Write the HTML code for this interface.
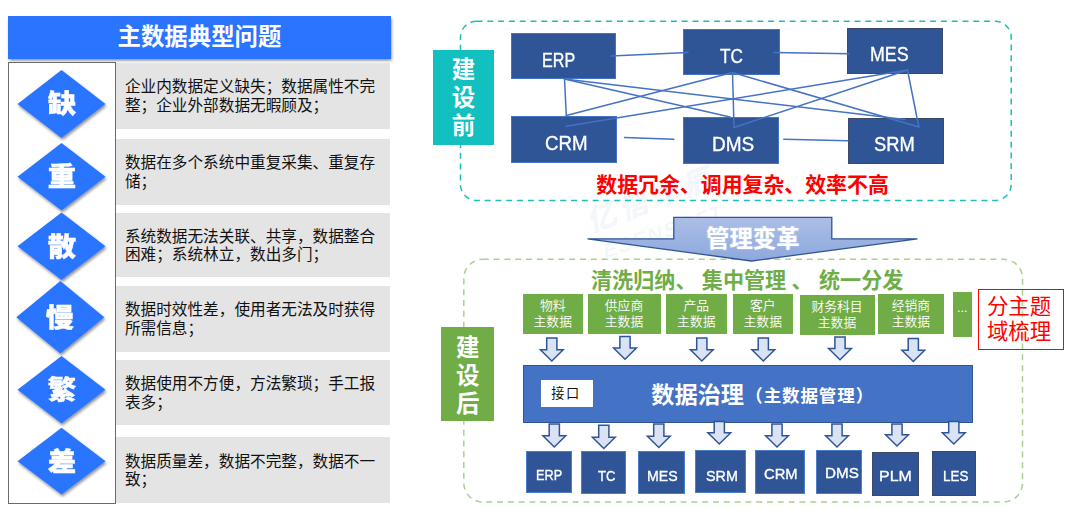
<!DOCTYPE html>
<html lang="zh-CN">
<head>
<meta charset="utf-8">
<title>主数据典型问题</title>
<style>
html,body{margin:0;padding:0;background:#fff}
body{width:1080px;height:515px;position:relative;overflow:hidden;font-family:"Liberation Sans","Noto Sans CJK SC",sans-serif;color:#000}
.a{position:absolute;box-sizing:border-box}
.c{display:flex;align-items:center;justify-content:center;text-align:center;white-space:nowrap}
svg{position:absolute;left:0;top:0}
.title{background:#2a74ff;color:#fff;font-weight:700;font-size:23.4px;box-shadow:0.8px 1.8px 3px rgba(0,0,0,.5)}
.lbox{border:1.3px solid #6a6a6a;background:#fff}
.g{background:#e4e4e4;font-size:15.65px;line-height:18.6px;color:#111;padding-left:8.6px;display:flex;align-items:center;white-space:nowrap}
.dch{color:#fff;font-weight:900;font-size:26.5px;line-height:30px;width:60px;text-align:center;-webkit-text-stroke:0.4px #fff;transform:scaleX(1.07)}
.db{background:#2f5597;color:#fff;font-size:19.5px}
.sb{background:#2f5597;color:#fff;font-size:15px;border:1px solid #4a7fd0}
.lt{color:#fff;white-space:nowrap;transform-origin:0 0;-webkit-text-stroke:0.35px #fff}
.vl{color:#fff;font-weight:700;font-size:23.5px;line-height:28.2px;text-align:center}
.gb{background:#70ad47;color:#fff;font-weight:350;font-size:12.8px;line-height:16.2px;text-align:center;display:flex;align-items:center;justify-content:center}
.gt{color:#70ad47;font-weight:700;font-size:21.1px;line-height:26px;white-space:nowrap}
</style>
</head>
<body>

<div class="a" style="left:592px;top:206px;color:rgba(68,114,196,.085);font-weight:900;font-size:29px;line-height:32px;letter-spacing:5px;white-space:nowrap;transform-origin:0 100%;transform:rotate(-20deg) skewX(-12deg)">亿信华辰</div>
<div class="a" style="left:605px;top:240px;color:rgba(68,114,196,.075);font-weight:700;font-size:21px;line-height:24px;letter-spacing:1.6px;white-space:nowrap;transform-origin:0 100%;transform:rotate(-18.5deg) skewX(-12deg)">ESENSOFT</div>
<div class="a c title" style="left:8.3px;top:16px;width:382.3px;height:42.5px;padding-bottom:4.9px">主数据典型问题</div>
<div class="a lbox" style="left:8px;top:61.6px;width:108px;height:442px;"></div>
<div class="a g" style="left:116.3px;top:62.5px;width:273.5px;height:66.5px;"><div style="position:relative;top:1.1px">企业内数据定义缺失；数据属性不完<br>整；企业外部数据无暇顾及；</div></div>
<div class="a g" style="left:116.3px;top:139.2px;width:273.5px;height:65.6px;"><div style="position:relative;top:1.1px">数据在多个系统中重复采集、重复存<br>储；</div></div>
<div class="a g" style="left:116.3px;top:213px;width:273.5px;height:64.3px;"><div style="position:relative;top:1.1px">系统数据无法关联、共享，数据整合<br>困难；系统林立，数出多门；</div></div>
<div class="a g" style="left:116.3px;top:286px;width:273.5px;height:65.5px;"><div style="position:relative;top:1.1px">数据时效性差，使用者无法及时获得<br>所需信息；</div></div>
<div class="a g" style="left:116.3px;top:359.8px;width:273.5px;height:65.5px;"><div style="position:relative;top:1.1px">数据使用不方便，方法繁琐；手工报<br>表多；</div></div>
<div class="a g" style="left:116.3px;top:437.3px;width:273.5px;height:65.5px;"><div style="position:relative;top:1.1px">数据质量差，数据不完整，数据不一<br>致；</div></div>
<svg width="1080" height="515" viewBox="0 0 1080 515">
<defs>
<filter id="ds" x="-20%" y="-20%" width="150%" height="150%"><feGaussianBlur in="SourceAlpha" stdDeviation="1.4"/><feOffset dx="1.2" dy="1.8"/><feComponentTransfer><feFuncA type="linear" slope="0.45"/></feComponentTransfer><feMerge><feMergeNode/><feMergeNode in="SourceGraphic"/></feMerge></filter>
<linearGradient id="ag" x1="0" y1="0" x2="0" y2="1"><stop offset="0" stop-color="#abbee6"/><stop offset="1" stop-color="#8da8dc"/></linearGradient>
</defs>
<g fill="#2a74ff" filter="url(#ds)">
<polygon points="61.5,70 105.5,104.0 61.5,138 17.5,104.0"/>
<polygon points="61.5,143 105.5,176.75 61.5,210.5 17.5,176.75"/>
<polygon points="61.5,212.5 105.5,246.25 61.5,280 17.5,246.25"/>
<polygon points="60.3,281 104.3,317.25 60.3,353.5 16.299999999999997,317.25"/>
<polygon points="61.5,356 105.5,389.75 61.5,423.5 17.5,389.75"/>
<polygon points="61.5,427.8 105.5,461.15 61.5,494.5 17.5,461.15"/>
</g>
<rect x="460.5" y="21.3" width="550.7" height="179.2" rx="16" ry="16" fill="none" stroke="#1fbdb9" stroke-width="1.5" stroke-dasharray="6 4.8"/>
<rect x="463.8" y="259.3" width="558.7" height="242.7" rx="19" ry="19" fill="none" stroke="#a9d18e" stroke-width="1.5" stroke-dasharray="6 4.8"/>
</svg>
<div class="a vl" style="left:433px;top:50px;width:61px;height:95px;background:#11c0bf;padding-top:5.5px;">建<br>设<br>前</div>
<div class="a db" style="left:511.3px;top:32.5px;width:105px;height:46px;border:1px solid #4472c4;"></div>
<div class="a db" style="left:683.2px;top:29.2px;width:96.8px;height:46.3px;border:1px solid #4472c4;"></div>
<div class="a db" style="left:846.6px;top:28px;width:96px;height:46px;border:1.3px solid #3a4a68;"></div>
<div class="a db" style="left:511.3px;top:115.5px;width:105.4px;height:47.3px;border:1px solid #4472c4;"></div>
<div class="a db" style="left:683px;top:117px;width:95.8px;height:46.6px;border:1px solid #4472c4;"></div>
<div class="a db" style="left:848.2px;top:118px;width:96.3px;height:46.2px;border:1.3px solid #3a4a68;"></div>
<svg width="1080" height="515" viewBox="0 0 1080 515"><g stroke="#4472c4" stroke-width="1.5" fill="none" stroke-linecap="round">
<line x1="611" y1="56" x2="688" y2="52.5"/>
<line x1="773.8" y1="52.5" x2="849" y2="53.8"/>
<line x1="564.5" y1="79" x2="566.3" y2="115.5"/>
<line x1="564.5" y1="79" x2="730" y2="117"/>
<line x1="564.5" y1="79" x2="905" y2="119.5"/>
<line x1="732.5" y1="72.5" x2="566.3" y2="115.5"/>
<line x1="732.5" y1="72.5" x2="734" y2="127.5"/>
<line x1="732.5" y1="72.5" x2="918.8" y2="127"/>
<line x1="907.5" y1="70" x2="566.3" y2="126.3"/>
<line x1="907.5" y1="70" x2="734" y2="127.5"/>
<line x1="907.5" y1="70" x2="918.8" y2="127"/>
<line x1="624.5" y1="137.5" x2="673.8" y2="139.3"/>
<line x1="783.8" y1="139.3" x2="848" y2="140.7"/>
</g>
<polygon points="673.8,217.3 831.8,217.3 831.8,238.8 917.5,238.8 751.5,261 587.5,238.8 673.8,238.8" fill="url(#ag)" stroke="#2f5597" stroke-width="1.3"/>
<g fill="#dae3f3" stroke="#2f5597" stroke-width="1.5" stroke-linejoin="miter">
<polygon points="546.7,338 556.9,338 556.9,349.7 563.2,349.7 551.8,361 540.4,349.7 546.7,349.7"/>
<polygon points="619.9,336.5 630.1,336.5 630.1,348.0 636.4,348.0 625,359.3 613.6,348.0 619.9,348.0"/>
<polygon points="696.7,338 706.9,338 706.9,349.7 713.2,349.7 701.8,361 690.4,349.7 696.7,349.7"/>
<polygon points="758.2,338 768.4,338 768.4,349.7 774.7,349.7 763.3,361 751.9,349.7 758.2,349.7"/>
<polygon points="834.9,337 845.1,337 845.1,348.5 851.4,348.5 840,359.8 828.6,348.5 834.9,348.5"/>
<polygon points="908.2,338.5 918.4,338.5 918.4,350.2 924.7,350.2 913.3,361.5 901.9,350.2 908.2,350.2"/>
</g>
</svg>
<div class="a lt" style="left:541.58px;top:49.23px;font-size:20.3px;line-height:22.68px;transform:scaleX(0.795)">ERP</div>
<div class="a lt" style="left:719.92px;top:45.23px;font-size:20.3px;line-height:22.68px;transform:scaleX(0.847)">TC</div>
<div class="a lt" style="left:870.44px;top:43.23px;font-size:20.3px;line-height:22.68px;transform:scaleX(0.879)">MES</div>
<div class="a lt" style="left:544.86px;top:131.93px;font-size:20.3px;line-height:22.68px;transform:scaleX(0.923)">CRM</div>
<div class="a lt" style="left:712.04px;top:132.93px;font-size:20.3px;line-height:22.68px;transform:scaleX(0.938)">DMS</div>
<div class="a lt" style="left:874.07px;top:132.93px;font-size:20.3px;line-height:22.68px;transform:scaleX(0.905)">SRM</div>
<div class="a" style="left:596.3px;top:170.6px;color:#ff0000;font-weight:700;font-size:20.9px;line-height:28px;white-space:nowrap;">数据冗余、调用复杂、效率不高</div>
<div class="a c" style="left:673.8px;top:222.5px;width:158px;height:28px;color:#fff;font-weight:700;font-size:23.4px;text-shadow:0 0 2px rgba(255,255,255,.5)">管理变革</div>
<div class="a vl" style="left:441.3px;top:326.8px;width:53px;height:94.7px;background:#70ad47;padding-top:6.8px;">建<br>设<br>后</div>
<div class="a gt" style="left:591px;top:268px;">清洗归纳、</div>
<div class="a gt" style="left:701.8px;top:268px;">集中管理</div>
<div class="a gt" style="left:791.5px;top:268px;">、</div>
<div class="a gt" style="left:819px;top:268px;">统一分发</div>
<div class="a gb" style="left:523px;top:293.7px;width:59.5px;height:40.4px;"><div>物料<br>主数据</div></div>
<div class="a gb" style="left:587.5px;top:293.7px;width:73px;height:40.4px;"><div>供应商<br>主数据</div></div>
<div class="a gb" style="left:665.5px;top:293.7px;width:61.5px;height:40.4px;"><div>产品<br>主数据</div></div>
<div class="a gb" style="left:732.5px;top:293.7px;width:60.5px;height:40.4px;"><div>客户<br>主数据</div></div>
<div class="a gb" style="left:799.5px;top:294.8px;width:75px;height:40.7px;"><div>财务科目<br>主数据</div></div>
<div class="a gb" style="left:878px;top:293.7px;width:65.8px;height:40.4px;"><div>经销商<br>主数据</div></div>
<div class="a gb" style="left:952.5px;top:292.3px;width:19.5px;height:44.5px;"><div style="position:relative;top:-6px">...</div></div>
<div class="a" style="left:977.5px;top:288.5px;width:86.3px;height:61.3px;border:1.6px solid #ff0000;color:#ff0000;font-size:21.4px;line-height:25.1px;text-align:center;padding:5.9px 3.2px 0 0;white-space:nowrap">分主题<br>域梳理</div>
<div class="a" style="left:523px;top:364.5px;width:450px;height:58.3px;background:#4472c4;border:1px solid #2f5597;"></div>
<div class="a c" style="left:540.8px;top:379.8px;width:52.2px;height:27.2px;background:#fff;font-size:13.2px;letter-spacing:1.5px;color:#111;padding:0 2px 2px 0">接口</div>
<div class="a" style="left:651.3px;top:378.6px;color:#fff;font-weight:700;font-size:23.2px;line-height:32px;white-space:nowrap;">数据治理<span style="font-size:17.5px;letter-spacing:0.9px;margin-left:1.2px;position:relative;top:-1px">（主数据管理）</span></div>
<svg width="1080" height="515" viewBox="0 0 1080 515"><g fill="#dae3f3" stroke="#2f5597" stroke-width="1.5">
<polygon points="549.2,424 559.4,424 559.4,435.7 565.7,435.7 554.3,447 542.9,435.7 549.2,435.7"/>
<polygon points="598.7,425.3 608.9,425.3 608.9,437.2 615.2,437.2 603.8,448.5 592.4,437.2 598.7,437.2"/>
<polygon points="653.7,424 663.9,424 663.9,436.2 670.2,436.2 658.8,447.5 647.4,436.2 653.7,436.2"/>
<polygon points="714.2,421.5 724.4,421.5 724.4,432.7 730.7,432.7 719.3,444 707.9,432.7 714.2,432.7"/>
<polygon points="771.9,424 782.1,424 782.1,435.7 788.4,435.7 777,447 765.6,435.7 771.9,435.7"/>
<polygon points="831.9,424 842.1,424 842.1,435.7 848.4,435.7 837,447 825.6,435.7 831.9,435.7"/>
<polygon points="891.9,424 902.1,424 902.1,434.7 908.4,434.7 897,446 885.6,434.7 891.9,434.7"/>
<polygon points="948.7,421.5 958.9,421.5 958.9,432.7 965.2,432.7 953.8,444 942.4,432.7 948.7,432.7"/>
</g></svg>
<div class="a sb" style="left:526px;top:451px;width:46px;height:42px;"></div>
<div class="a lt" style="left:536.06px;top:465.97px;font-size:15.5px;line-height:17.31px;transform:scaleX(0.819)">ERP</div>
<div class="a sb" style="left:581px;top:451px;width:45.3px;height:43px;"></div>
<div class="a lt" style="left:597.81px;top:466.97px;font-size:15.5px;line-height:17.31px;transform:scaleX(0.841)">TC</div>
<div class="a sb" style="left:638px;top:451px;width:47px;height:43px;"></div>
<div class="a lt" style="left:647.44px;top:466.97px;font-size:15.5px;line-height:17.31px;transform:scaleX(0.914)">MES</div>
<div class="a sb" style="left:695px;top:450.3px;width:50.6px;height:43px;"></div>
<div class="a lt" style="left:705.76px;top:466.97px;font-size:15.5px;line-height:17.31px;transform:scaleX(0.924)">SRM</div>
<div class="a sb" style="left:755px;top:450.3px;width:50px;height:43.6px;"></div>
<div class="a lt" style="left:764.26px;top:464.97px;font-size:15.5px;line-height:17.31px;transform:scaleX(0.950)">CRM</div>
<div class="a sb" style="left:815.6px;top:450.3px;width:46.1px;height:43.6px;"></div>
<div class="a lt" style="left:825.45px;top:463.97px;font-size:15.5px;line-height:17.31px;transform:scaleX(0.982)">DMS</div>
<div class="a sb" style="left:871.9px;top:452px;width:47.2px;height:43.8px;border:1.3px solid #3a4a68;"></div>
<div class="a lt" style="left:878.79px;top:466.97px;font-size:15.5px;line-height:17.31px;transform:scaleX(1.030)">PLM</div>
<div class="a sb" style="left:932.4px;top:450.8px;width:43.4px;height:44.8px;border:1.3px solid #3a4a68;"></div>
<div class="a lt" style="left:942.50px;top:466.97px;font-size:15.5px;line-height:17.31px;transform:scaleX(0.864)">LES</div>
<div class="a dch" style="left:31.5px;top:89.4px;">缺</div>
<div class="a dch" style="left:31.5px;top:162.15px;">重</div>
<div class="a dch" style="left:31.5px;top:231.65px;">散</div>
<div class="a dch" style="left:30.299999999999997px;top:302.65px;">慢</div>
<div class="a dch" style="left:31.5px;top:375.15px;">繁</div>
<div class="a dch" style="left:31.5px;top:446.54999999999995px;">差</div>
</body>
</html>
